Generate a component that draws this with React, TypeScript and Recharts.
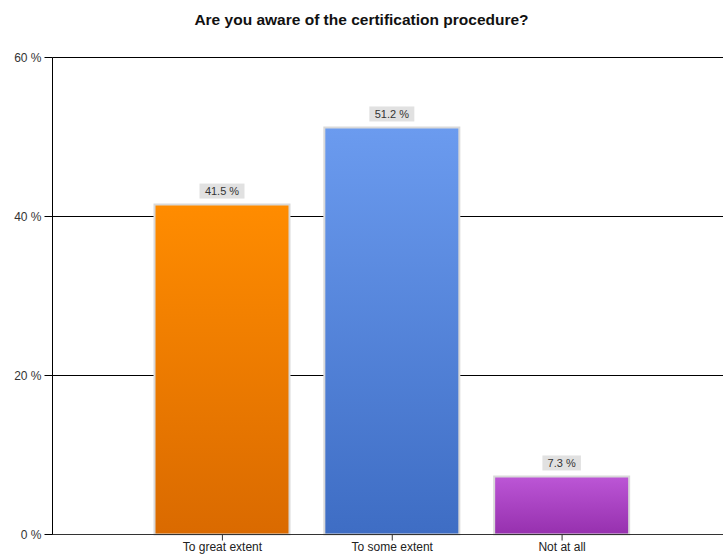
import { BarChart, Bar, XAxis, YAxis, CartesianGrid, LabelList, Cell } from 'recharts';

const categories = ['To great extent', 'To some extent', 'Not at all'];
const percentages = [41.5, 51.2, 7.3];
const yTicks = [0, 20, 40, 60];

// gradient stops per bar: [top, bottom]
const GRADIENTS = [
    ['#FF8C00', '#DA6A00'],
    ['#6B9BEF', '#3E6DC4'],
    ['#BC56D6', '#9630AE'],
];

const data = categories.map((name, i) => ({ name, value: percentages[i] }));

const FONT = '"Liberation Sans", Arial, sans-serif';

function ValueLabel(props: any) {
    const { x, y, width, value } = props;
    const text = `${value} %`;
    const w = text.length * 6.5 + 6;
    const cx = x + width / 2;
    return (
        <g>
            <rect x={cx - w / 2} y={y - 21} width={w} height={15} fill="#E1E1E1" />
            <text x={cx} y={y - 9.5} textAnchor="middle" fontSize={11} fill="#333" fontFamily={FONT}>
                {text}
            </text>
        </g>
    );
}

export default function App() {
    return (
        <div style={{ position: 'absolute', left: 0, top: 0, width: 723, height: 557, background: '#fff', overflow: 'hidden' }}>
            <div
                style={{
                    position: 'absolute',
                    top: 11,
                    left: 0,
                    width: 723,
                    textAlign: 'center',
                    fontFamily: FONT,
                    fontWeight: 'bold',
                    fontSize: 15.5,
                    color: '#111',
                }}
            >
                Are you aware of the certification procedure?
            </div>
            <BarChart width={723} height={557} data={data} margin={{ top: 57.5, right: 0, left: 0, bottom: 2.5 }}>
                <defs>
                    {GRADIENTS.map((g, i) => (
                        <linearGradient key={i} id={`grad-${i}`} x1="0" y1="0" x2="0" y2="1">
                            <stop offset="0%" stopColor={g[0]} />
                            <stop offset="100%" stopColor={g[1]} />
                        </linearGradient>
                    ))}
                </defs>
                <CartesianGrid horizontal={true} vertical={false} stroke="#000" strokeWidth={1} />
                <XAxis
                    dataKey="name"
                    height={20}
                    padding={{ left: 85, right: 76 }}
                    tickSize={6}
                    tickMargin={2}
                    stroke="#333"
                    tick={{ fill: '#222', fontSize: 12, fontFamily: FONT }}
                />
                <YAxis
                    width={52.5}
                    domain={[0, 60]}
                    ticks={yTicks}
                    tickSize={8}
                    tickMargin={3}
                    stroke="#000"
                    tickFormatter={(v) => `${v} %`}
                    tick={{ fill: '#333', fontSize: 12, fontFamily: FONT }}
                />
                <Bar dataKey="value" barSize={135} stroke="#D9D9D9" strokeWidth={2} isAnimationActive={false}>
                    {data.map((_entry, index) => (
                        <Cell key={`cell-${index}`} fill={`url(#grad-${index})`} />
                    ))}
                    <LabelList dataKey="value" content={ValueLabel} />
                </Bar>
            </BarChart>
        </div>
    );
}
